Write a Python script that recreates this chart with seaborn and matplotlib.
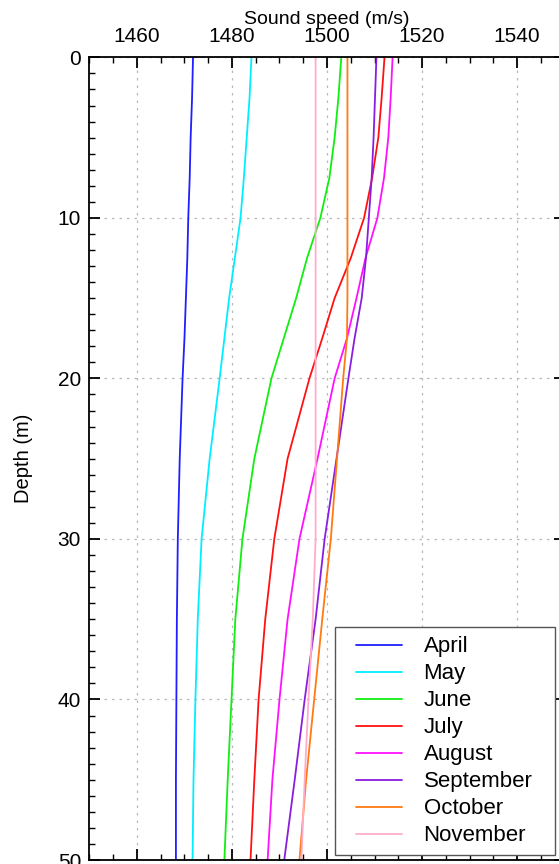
import pandas as pd
import numpy as np
import matplotlib
matplotlib.use('Agg')
import matplotlib.pyplot as plt
import seaborn as sns
from matplotlib.lines import Line2D
from matplotlib.legend_handler import HandlerLine2D

depth = [0, 2.5, 5, 7.5, 10, 12.5, 15, 17.5, 20, 25, 30, 35, 40, 45, 50]

april = [1471.8, 1471.6, 1471.3, 1471.1, 1470.8, 1470.6, 1470.3, 1470.0, 1469.6, 1469.0, 1468.6, 1468.4, 1468.3, 1468.2, 1468.2]
may = [1484.1, 1483.7, 1483.1, 1482.5, 1481.8, 1480.6, 1479.4, 1478.4, 1477.4, 1475.3, 1473.6, 1472.8, 1472.3, 1471.9, 1471.7]
june = [1503.0, 1502.4, 1501.6, 1500.5, 1498.6, 1495.8, 1493.5, 1490.9, 1488.3, 1484.7, 1482.2, 1480.7, 1479.9, 1479.1, 1478.4]
july = [1512.1, 1511.5, 1510.8, 1509.5, 1507.8, 1505.0, 1501.6, 1499.0, 1496.3, 1491.7, 1488.9, 1487.0, 1485.6, 1484.7, 1483.9]
august = [1513.8, 1513.4, 1512.9, 1512.0, 1510.6, 1508.1, 1506.2, 1504.2, 1501.6, 1498.0, 1494.2, 1491.7, 1490.0, 1488.5, 1487.5]
september = [1510.4, 1510.1, 1509.8, 1509.4, 1508.8, 1508.2, 1507.3, 1505.8, 1504.5, 1502.0, 1499.5, 1497.6, 1495.3, 1493.2, 1491.0]
october = [1504.3, 1504.3, 1504.3, 1504.3, 1504.3, 1504.3, 1504.3, 1504.2, 1503.4, 1502.1, 1500.8, 1499.0, 1497.3, 1495.6, 1494.2]
november = [1497.6, 1497.6, 1497.6, 1497.6, 1497.6, 1497.6, 1497.6, 1497.6, 1497.6, 1497.6, 1497.6, 1497.0, 1496.1, 1495.3, 1494.6]

months = ['April', 'May', 'June', 'July', 'August', 'September', 'October', 'November']
colores = ['#1f1fff', '#00eeff', '#11ee11', '#ff1111', '#ff11ff', '#8a1ee0', '#ff7a10', '#ffaccb']

perfiles = [april, may, june, july, august, september, october, november]
df = pd.concat([pd.DataFrame({'depth': depth, 'speed': v, 'month': m})
                for m, v in zip(months, perfiles)], ignore_index=True)

sns.set_style('ticks')
plt.rcParams['font.family'] = ['Liberation Sans', 'DejaVu Sans']
plt.rcParams['text.color'] = 'black'
plt.rcParams['axes.labelcolor'] = 'black'
plt.rcParams['xtick.color'] = 'black'
plt.rcParams['ytick.color'] = 'black'
plt.rcParams['axes.edgecolor'] = 'black'

fig = plt.figure(figsize=(5.59, 8.64), dpi=100)
ax = fig.add_axes([0.160, 0.0046, 0.850, 0.929])

sns.lineplot(data=df, x='speed', y='depth', hue='month', hue_order=months,
             palette=colores, sort=False, estimator=None, orient='y',
             linewidth=1.3, ax=ax)

ax.set_xlim(1450, 1550)
ax.set_ylim(50, 0)
ax.set_xticks([1460, 1480, 1500, 1520, 1540])
ax.set_xticks(np.arange(1450, 1551, 5), minor=True)
ax.set_yticks([0, 10, 20, 30, 40, 50])
ax.set_yticks(np.arange(0, 51, 1), minor=True)
ax.xaxis.tick_top()
ax.xaxis.set_label_position('top')
ax.tick_params(which='both', direction='in', top=True, bottom=True, left=True, right=True,
               labeltop=True, labelbottom=False, labelsize=15)
ax.tick_params(which='major', length=8, width=1.3)
ax.tick_params(which='minor', length=4, width=1.0)
ax.tick_params(axis='x', which='major', pad=8)
ax.tick_params(axis='y', which='major', pad=6)
for s in ax.spines.values():
    s.set_linewidth(1.3)

ax.grid(True, which='major', color='#b8b8b8', linestyle=(0, (2, 4)), linewidth=0.9)

ax.set_xlabel('Sound speed (m/s)', fontsize=14, labelpad=2)
ax.set_ylabel('Depth (m)', fontsize=14.5, labelpad=18)

# legend box spans x 335..555 px in the reference
leg = ax.legend(loc='lower left', bbox_to_anchor=(0.516, 0.006, 0.463, 0.2), mode='expand',
                borderaxespad=0, numpoints=2,
                handler_map={Line2D: HandlerLine2D(marker_pad=0.58)},
                fontsize=16, handlelength=3.2, handletextpad=0.4, labelspacing=0.27,
                fancybox=False, edgecolor='#555555', framealpha=1)
leg.get_frame().set_linewidth(1.0)

fig.savefig('out.png', dpi=100)
